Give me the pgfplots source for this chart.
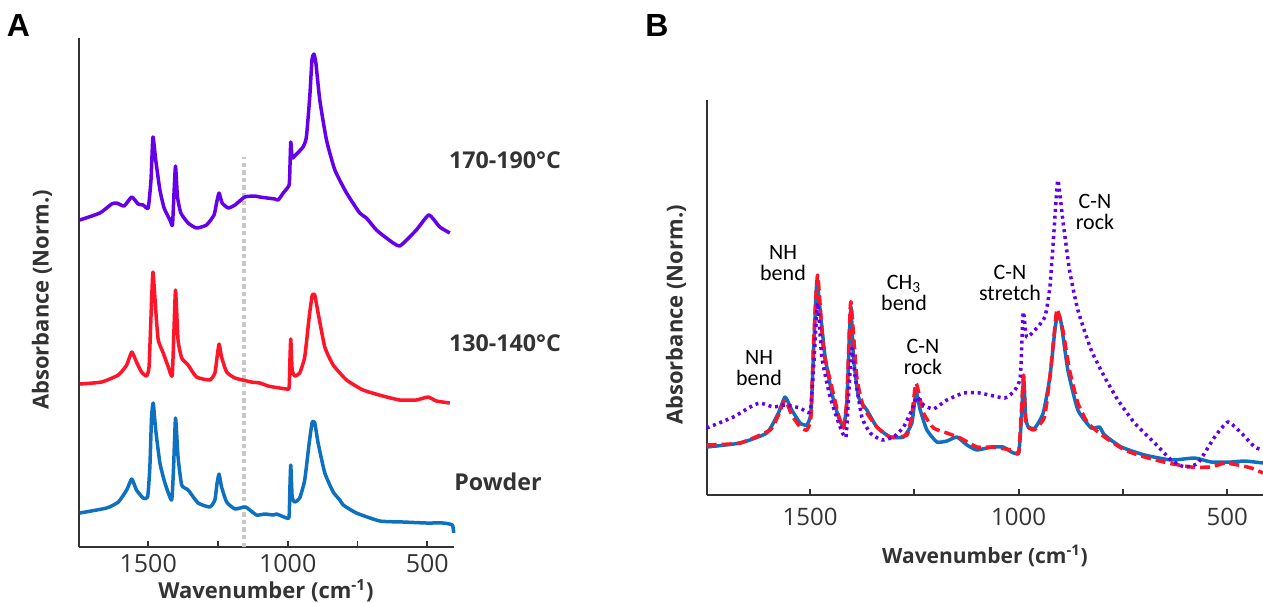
\documentclass[border=0pt]{standalone}
\usepackage{pgfplots}
\pgfplotsset{compat=1.18}
\usepackage{fontspec}
\setmainfont{Open Sans}
\newfontfamily\carl{Carlito}
\newfontfamily\arialf{Liberation Sans}
\definecolor{cpur}{HTML}{6500EA}
\definecolor{cred}{HTML}{FF1428}
\definecolor{cblu}{HTML}{0E70C0}
\definecolor{cgry}{HTML}{C8C8C8}
\definecolor{ctxt}{HTML}{333333}
\pgfplotsset{
  myax/.style={
    scale only axis,
    anchor=south west,
    x dir=reverse,
    axis x line=bottom,
    axis y line=left,
    axis line style={-, line width=1pt, color=ctxt},
    ytick=\empty,
    xtick={500,750,1000,1250,1500},
    xticklabels={500,,1000,,1500},
    tick align=inside,
    major tick length=3pt,
    tick style={line width=0.9pt, color=ctxt},
    /pgf/number format/assume math mode=true,
    clip=false,
  },
  sp/.style={line width=1.75pt, line join=round, smooth, tension=0.3}
}
\begin{document}
\begin{tikzpicture}
\useasboundingbox (0,0) rectangle (631.5pt,301pt);
% ---------------- Panel A ----------------
\begin{axis}[myax, at={(39.5pt,27.5pt)}, width=187.5pt, height=254.5pt,
  xmin=404, xmax=1748, ymin=0, ymax=509,
  ticklabel style={font=\fontsize{12.5}{14}\selectfont, text=ctxt}]
\addplot[cgry, line width=2.1pt, dash pattern=on 2.2pt off 1.6pt] coordinates {(1157,0) (1157,390)};
\addplot[cpur, sp] coordinates {
(1745,327)(1673,334)(1631,343)(1613,344)(1586,341)(1559,350)(1536,343)(1518,342)(1500,339)(1490,367)(1483,410)(1473,387)(1458,357)(1443,339)(1422,327)(1413,322)(1407,357)(1402,381)(1395,350)(1383,334)(1357,324)(1327,319)(1291,322)(1264,332)(1255,344)(1246,354)(1235,344)(1213,339)(1189,342)(1154,350)(1118,351)(1100,350)(1046,348)(1034,347)(1016,354)(995,362)(992,380)(989,405)(984,389)(975,391)(945,400)(933,410)(921,450)(913,487)(906,493)(899,484)(885,447)(861,407)(831,377)(789,354)(742,334)(718,329)(682,317)(646,309)(599,301)(539,317)(494,332)(455,320)(419,314)};
\addplot[cred, sp] coordinates {
(1745,163)(1667,165)(1607,172)(1577,182)(1559,195)(1542,185)(1524,175)(1506,171)(1497,180)(1490,230)(1483,275)(1473,237)(1464,207)(1446,194)(1428,180)(1414,171)(1408,214)(1402,257)(1393,207)(1380,189)(1357,182)(1327,170)(1279,167)(1261,174)(1253,190)(1246,203)(1237,190)(1219,175)(1189,169)(1130,165)(1100,164)(1070,161)(1052,160)(1004,158)(995,159)(992,187)(989,208)(984,177)(975,171)(957,174)(939,190)(923,230)(912,252)(903,252)(891,234)(867,200)(837,182)(789,167)(730,157)(659,151)(598,147)(539,147)(497,150)(467,146)(419,144)};
\addplot[cblu, sp] coordinates {
(1745,34)(1649,39)(1607,45)(1577,57)(1559,68)(1542,57)(1518,49)(1502,50)(1494,80)(1488,130)(1482,144)(1473,117)(1458,84)(1440,64)(1416,47)(1409,80)(1402,129)(1393,90)(1380,62)(1357,57)(1321,44)(1279,40)(1261,47)(1253,64)(1246,73)(1237,60)(1219,45)(1189,38)(1151,40)(1112,32)(1082,33)(1052,32)(1040,33)(1004,29)(995,30)(992,60)(989,82)(984,50)(975,45)(957,49)(939,67)(923,104)(912,125)(903,124)(891,104)(867,74)(837,55)(813,47)(801,42)(754,34)(670,26)(587,25)(503,24)(443,24)(410,22)(405,14)};
\end{axis}
% ---------------- Panel B ----------------
\begin{axis}[myax, at={(353.35pt,53.5pt)}, width=278.15pt, height=197.5pt,
  xmin=414, xmax=1748, ymin=0, ymax=395,
  ticklabel style={font=\fontsize{12}{14}\selectfont, text=ctxt, yshift=-3pt}]
\addplot[cblu, sp] coordinates {
(1748,48)(1668,52)(1604,62)(1576,82)(1560,98)(1544,85)(1524,72)(1508,70)(1498,82)(1492,142)(1484,212)(1476,185)(1464,138)(1448,102)(1432,78)(1420,68)(1412,92)(1406,158)(1402,188)(1396,138)(1384,98)(1364,85)(1340,68)(1308,58)(1276,58)(1256,72)(1246,103)(1236,85)(1220,65)(1196,53)(1172,54)(1148,58)(1124,50)(1100,45)(1065,48)(1037,48)(1017,43)(1000,42)(994,72)(988,118)(983,78)(977,68)(961,67)(941,82)(925,118)(913,165)(906,182)(898,172)(882,125)(858,85)(826,67)(806,68)(794,60)(754,48)(698,40)(634,35)(578,37)(538,33)(490,33)(458,34)(414,32)};
\addplot[cred, sp, dash pattern=on 5pt off 2.5pt] coordinates {
(1748,50)(1668,52)(1596,65)(1576,80)(1560,95)(1544,80)(1524,68)(1508,65)(1498,78)(1492,150)(1482,220)(1468,145)(1448,108)(1432,80)(1420,67)(1412,95)(1406,165)(1402,193)(1388,118)(1372,88)(1340,68)(1308,58)(1268,60)(1256,80)(1246,112)(1228,82)(1204,67)(1172,62)(1140,57)(1100,48)(1065,48)(1017,45)(1000,42)(994,80)(988,120)(983,72)(963,65)(938,78)(925,118)(915,160)(908,186)(894,165)(878,125)(858,92)(834,72)(794,58)(746,45)(698,38)(642,32)(586,28)(538,28)(506,32)(474,30)(442,27)(414,22)};
\addplot[cpur, sp, dash pattern=on 1.5pt off 1.9pt] coordinates {
(1748,67)(1684,78)(1644,88)(1620,92)(1588,88)(1560,90)(1524,87)(1500,83)(1492,125)(1482,192)(1472,138)(1452,98)(1428,68)(1414,58)(1406,112)(1400,147)(1392,118)(1376,78)(1356,62)(1328,55)(1300,58)(1276,68)(1256,85)(1244,98)(1228,90)(1204,86)(1172,95)(1132,102)(1093,102)(1033,97)(1009,105)(996,118)(989,183)(981,158)(961,165)(937,178)(925,208)(915,265)(906,315)(894,275)(878,225)(858,185)(826,145)(794,118)(762,95)(722,72)(674,52)(634,35)(602,28)(570,32)(530,58)(498,73)(466,62)(434,48)(414,45)};
\end{axis}
% ---------------- Texts ----------------
\node[font=\arialf\bfseries\fontsize{16}{18}\selectfont, text=black] at (9.25pt,288.5pt) {A};
\node[font=\arialf\bfseries\fontsize{16}{18}\selectfont, text=black] at (328.5pt,288.5pt) {B};
\node[rotate=90, font=\bfseries\fontsize{11}{13}\selectfont, text=ctxt] at (21pt,151pt) {Absorbance (Norm.)};
\node[anchor=base, font=\bfseries\fontsize{11}{13}\selectfont, text=ctxt] at (133pt,2pt) {Wavenumber (cm\textsuperscript{-1})};
\node[rotate=90, font=\bfseries\fontsize{11}{13}\selectfont, text=ctxt] at (338pt,143.5pt) {Absorbance (Norm.)};
\node[anchor=base, font=\bfseries\fontsize{10.5}{13}\selectfont, text=ctxt] at (492.5pt,19.5pt) {Wavenumber (cm\textsuperscript{-1})};
\node[font=\bfseries\fontsize{11.6}{13}\selectfont, text=ctxt] at (252.5pt,221pt) {170-190°C};
\node[font=\bfseries\fontsize{11.6}{13}\selectfont, text=ctxt] at (252.5pt,129.5pt) {130-140°C};
\node[font=\bfseries\fontsize{11.6}{13}\selectfont, text=ctxt] at (249pt,60pt) {Powder};
\tikzset{ann/.style={align=center, inner sep=0pt, font=\carl\fontsize{11}{10.4}\selectfont, text=black}}
\node[ann] at (391.5pt,169.5pt) {NH\\bend};
\node[ann] at (379.5pt,117pt) {NH\\bend};
\node[ann] at (452pt,154.5pt) {CH\textsubscript{3}\\bend};
\node[ann] at (461.5pt,122.5pt) {C-N\\rock};
\node[ann] at (505pt,159.5pt) {C-N\\stretch};
\node[ann] at (547.5pt,195pt) {C-N\\rock};
\end{tikzpicture}
\end{document}
